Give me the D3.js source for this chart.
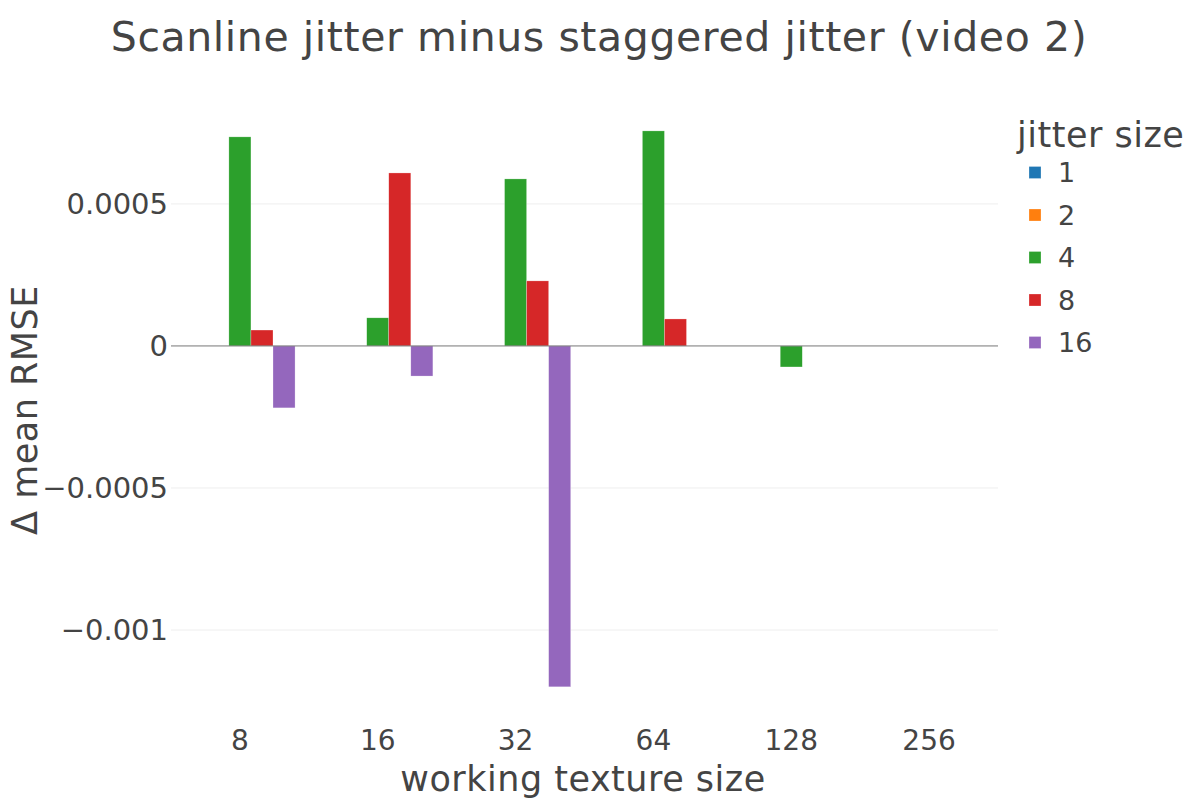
<!DOCTYPE html>
<html>
<head>
<meta charset="utf-8">
<script src="https://cdn.jsdelivr.net/npm/d3@7"></script>
<style>
  body { margin: 0; background: #fff; }
  svg { font-family: "DejaVu Sans", Verdana, sans-serif; }
</style>
</head>
<body>
<div id="chart-area"></div>
<script>
// categories on the x axis
var textureSizes = ["8", "16", "32", "64", "128", "256"]
// legend entries (jitter size)
var jitterSizes = ["1", "2", "4", "8", "16"]
var colours = ["#1f77b4", "#ff7f0e", "#2ca02c", "#d62728", "#9467bd"]

// values per jitter size, one per texture size (null = no bar)
var jitter1 = [null, null, null, null, null, null]
var jitter2 = [null, null, null, null, null, null]
var jitter4 = [0.000736, 0.000099, 0.000588, 0.000757, -0.000074, null]
var jitter8 = [0.000056, 0.000609, 0.000229, 0.000095, null, null]
var jitter16 = [-0.000218, -0.000106, -0.0012, null, null, null]

var yTicks = [0.0005, 0, -0.0005, -0.001]
var yTickLabels = ["0.0005", "0", "\u22120.0005", "\u22120.001"]

var series = [jitter1, jitter2, jitter4, jitter8, jitter16]

const WIDTH = 1200
const HEIGHT = 800
var margin = {"left": 171, "right": 202, "top": 115, "bottom": 95}
var plotW = WIDTH - margin.left - margin.right
var plotH = HEIGHT - margin.top - margin.bottom

var svg = d3.select("#chart-area").append("svg")
    .attr("width", WIDTH)
    .attr("height", HEIGHT)

var g = svg.append("g")
    .attr("transform", "translate(" + margin.left + "," + margin.top + ")")

var xScale = d3.scaleBand()
    .domain(textureSizes)
    .range([0, plotW])
    .paddingInner(0.2)
    .paddingOuter(0.1)

var xInner = d3.scaleBand()
    .domain(jitterSizes)
    .range([0, xScale.bandwidth()])

var yScale = d3.scaleLinear()
    .domain([-0.001264, 0.000813])
    .range([plotH, 0])

// gridlines
g.selectAll(".grid").data(yTicks.filter(function(t){ return t !== 0 }))
    .enter().append("line")
    .attr("class", "grid")
    .attr("x1", 0).attr("x2", plotW)
    .attr("y1", function(d){ return yScale(d) })
    .attr("y2", function(d){ return yScale(d) })
    .attr("stroke", "#eeeeee")
    .attr("stroke-width", 1)

// bars
var barData = []
series.forEach(function(vals, i){
    vals.forEach(function(v, j){
        if (v !== null) barData.push({cat: textureSizes[j], key: jitterSizes[i], value: v, colour: colours[i]})
    })
})

g.selectAll("rect.bar").data(barData)
    .enter().append("rect")
    .attr("class", "bar")
    .attr("x", function(d){ return xScale(d.cat) + xInner(d.key) })
    .attr("width", xInner.bandwidth())
    .attr("y", function(d){ return yScale(Math.max(0, d.value)) })
    .attr("height", function(d){ return Math.abs(yScale(d.value) - yScale(0)) })
    .attr("fill", function(d){ return d.colour })
    .attr("stroke", "rgba(255,255,255,0.5)")
    .attr("stroke-width", 0.5)

// zero line
g.append("line")
    .attr("x1", 0).attr("x2", plotW)
    .attr("y1", yScale(0)).attr("y2", yScale(0))
    .attr("stroke", "#777")
    .attr("stroke-width", 1)

// y tick labels
g.selectAll(".ytick").data(yTicks)
    .enter().append("text")
    .attr("class", "ytick")
    .attr("x", -3)
    .attr("y", function(d){ return yScale(d) })
    .attr("dy", "0.36em")
    .attr("text-anchor", "end")
    .attr("font-size", "29px")
    .attr("fill", "#444")
    .text(function(d, i){ return yTickLabels[i] })

// x tick labels
g.selectAll(".xtick").data(textureSizes)
    .enter().append("text")
    .attr("class", "xtick")
    .attr("x", function(d){ return xScale(d) + xScale.bandwidth() / 2 })
    .attr("y", 750 - margin.top)
    .attr("text-anchor", "middle")
    .attr("font-size", "28px")
    .attr("fill", "#444")
    .text(function(d){ return d })

// title
svg.append("text")
    .attr("x", 599)
    .attr("y", 51)
    .attr("text-anchor", "middle")
    .attr("font-size", "41px")
    .attr("letter-spacing", "0.6px")
    .attr("fill", "#444")
    .text("Scanline jitter minus staggered jitter (video 2)")

//x label
svg.append("text")
    .attr("x", 583)
    .attr("y", 791)
    .attr("text-anchor", "middle")
    .attr("font-size", "35px")
    .attr("letter-spacing", "0.5px")
    .attr("fill", "#444")
    .text("working texture size")

//y label
svg.append("text")
    .attr("transform", "translate(37,410) rotate(-90)")
    .attr("text-anchor", "middle")
    .attr("font-size", "35px")
    .attr("letter-spacing", "0.5px")
    .attr("fill", "#444")
    .text("\u0394 mean RMSE")

// legend
var legend = svg.append("g")
    .attr("transform", "translate(1017,0)")
legend.append("text")
    .attr("x", 0)
    .attr("y", 147)
    .attr("font-size", "35px")
    .attr("letter-spacing", "0.5px")
    .attr("fill", "#444")
    .text("jitter size")

jitterSizes.forEach(function(js, i){
    var row = legend.append("g")
        .attr("transform", "translate(0," + (172.5 + i * 42.5) + ")")
    row.append("rect")
        .attr("x", 12)
        .attr("y", -6)
        .attr("width", 12)
        .attr("height", 12)
        .attr("fill", colours[i])
        .attr("stroke", "rgba(255,255,255,0.5)")
        .attr("stroke-width", 0.5)
    row.append("text")
        .attr("x", 41)
        .attr("y", 0)
        .attr("dy", "0.36em")
        .attr("font-size", "27px")
        .attr("fill", "#444")
        .text(js)
})
</script>
</body>
</html>
